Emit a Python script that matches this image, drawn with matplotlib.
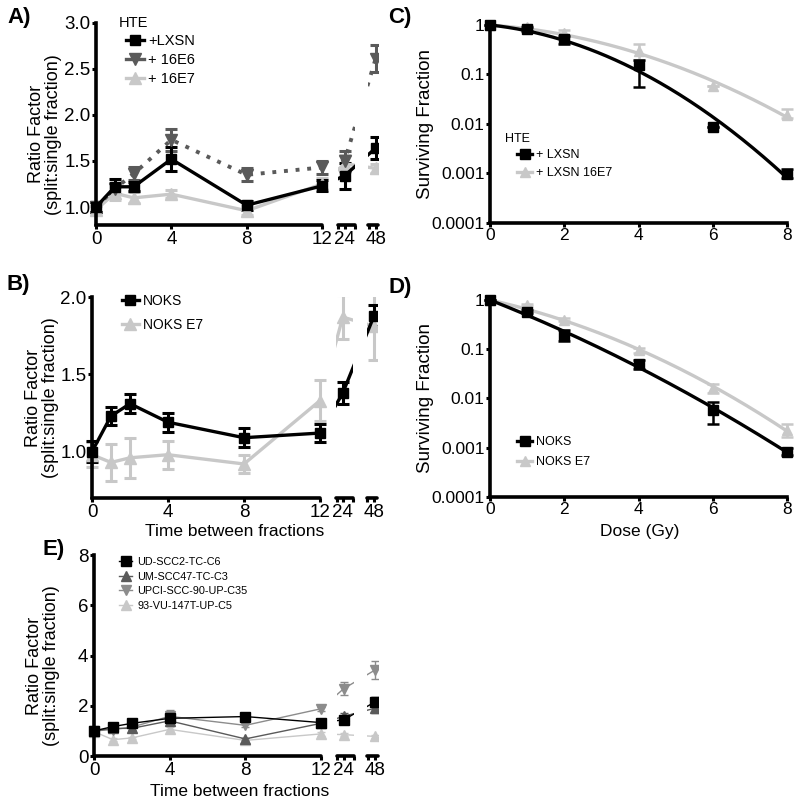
import numpy as np
import matplotlib.pyplot as plt
from matplotlib.lines import Line2D
from matplotlib.ticker import NullLocator

plt.rcParams['font.family'] = ['Liberation Sans', 'DejaVu Sans']

# ---------------- data ----------------
times = [0, 1, 2, 4, 8, 12, 24, 48]

# A) HTE ratio factor
a_lxsn = [1.00, 1.22, 1.22, 1.52, 1.02, 1.23, 1.34, 1.64]
a_lxsn_err = [0.05, 0.08, 0.05, 0.13, 0.05, 0.06, 0.14, 0.12]
a_16e6 = [1.00, 1.20, 1.36, 1.73, 1.35, 1.43, 1.50, 2.61]
a_16e6_err = [0.05, 0.06, 0.07, 0.12, 0.07, 0.07, 0.11, 0.15]
a_16e7 = [0.97, 1.15, 1.10, 1.14, 0.96, 1.25, 1.47, 1.42]
a_16e7_err = [0.04, 0.07, 0.06, 0.04, 0.05, 0.07, 0.09, 0.05]

# B) NOKS ratio factor
b_noks = [1.00, 1.23, 1.31, 1.19, 1.09, 1.12, 1.38, 1.88]
b_noks_err = [0.07, 0.06, 0.06, 0.06, 0.06, 0.06, 0.07, 0.07]
b_noks_e7 = [0.98, 0.93, 0.96, 0.98, 0.92, 1.33, 1.87, 1.81]
b_noks_e7_err = [0.08, 0.12, 0.13, 0.09, 0.06, 0.13, 0.14, 0.22]

# E) HNSCC lines ratio factor
e_names = ['UD-SCC2-TC-C6', 'UM-SCC47-TC-C3', 'UPCI-SCC-90-UP-C35', '93-VU-147T-UP-C5']
e_scc2 = [1.00, 1.17, 1.30, 1.50, 1.57, 1.33, 1.44, 2.15]
e_scc2_err = [0.05, 0.05, 0.06, 0.10, 0.05, 0.08, 0.10, 0.20]
e_scc47 = [1.00, 1.10, 1.10, 1.40, 0.68, 1.30, 1.58, 1.90]
e_scc47_err = [0.05, 0.05, 0.05, 0.10, 0.05, 0.08, 0.15, 0.20]
e_upci = [1.00, 1.05, 1.15, 1.58, 1.22, 1.88, 2.68, 3.42]
e_upci_err = [0.05, 0.05, 0.05, 0.25, 0.05, 0.08, 0.27, 0.35]
e_vu = [0.97, 0.65, 0.72, 1.06, 0.62, 0.88, 0.85, 0.78]
e_vu_err = [0.05, 0.05, 0.05, 0.10, 0.05, 0.08, 0.06, 0.05]

# C) / D) clonogenic survival
dose = [0, 1, 2, 4, 6, 8]
c_lxsn = [1.0, 0.82, 0.51, 0.155, 0.0086, 0.00098]
c_lxsn_lo = [1.0, 0.75, 0.42, 0.055, 0.0086, 0.0008]
c_lxsn_hi = [1.0, 0.90, 0.60, 0.20, 0.0086, 0.0012]
c_e7 = [1.0, 0.90, 0.68, 0.30, 0.057, 0.0152]
c_e7_lo = [1.0, 0.85, 0.55, 0.20, 0.057, 0.013]
c_e7_hi = [1.0, 0.95, 0.80, 0.42, 0.057, 0.020]

d_noks = [1.0, 0.58, 0.195, 0.049, 0.0058, 0.00083]
d_noks_lo = [1.0, 0.55, 0.15, 0.040, 0.0030, 0.0007]
d_noks_hi = [1.0, 0.62, 0.25, 0.060, 0.0085, 0.0010]
d_e7 = [1.0, 0.79, 0.40, 0.095, 0.016, 0.0023]
d_e7_lo = [1.0, 0.75, 0.37, 0.085, 0.013, 0.0016]
d_e7_hi = [1.0, 0.84, 0.43, 0.105, 0.020, 0.0030]

BLACK = 'black'
DARK = '#5a5a5a'
MID = '#8c8c8c'
LIGHT = '#c8c8c8'

W, H = 800, 805
fig = plt.figure(figsize=(W / 100, H / 100), dpi=100)


def box(l, r, t, b):
    return [l / W, 1 - b / H, (r - l) / W, (b - t) / H]


def bx(t):
    # positions of the 24 h and 48 h points on the broken time axis
    return [13.2 if v == 24 else 14.85 if v == 48 else v for v in t]


def broken_axes(l, r, t, b, ylim, yticks, ylabels):
    u = (r - l) / 12.0
    ax = fig.add_axes(box(l, r, t, b))
    s2 = fig.add_axes(box(l + 12.85 * u, l + 13.75 * u, t, b))
    s3 = fig.add_axes(box(l + 14.45 * u, l + 15.0 * u, t, b))
    ax.set_xlim(0, 12)
    s2.set_xlim(12.85, 13.75)
    s3.set_xlim(14.45, 15.0)
    for a in (ax, s2, s3):
        a.set_ylim(*ylim)
        a.patch.set_visible(False)
        a.spines['top'].set_visible(False)
        a.spines['right'].set_visible(False)
        a.spines['bottom'].set_linewidth(2.6)
        a.spines['left'].set_linewidth(2.6)
        a.spines['bottom'].set_capstyle('round')
        a.tick_params(width=2.2, length=3, labelsize=13.5, pad=1)
    for a in (s2, s3):
        a.spines['left'].set_visible(False)
        a.set_yticks([])
        a.tick_params(axis='x', which='minor', width=2.2, length=3)
    ax.set_xticks([0, 4, 8, 12])
    s2.set_xticks([13.2])
    s2.set_xticklabels(['24'])
    s2.set_xticks([12.87, 13.73], minor=True)
    s3.set_xticks([14.85])
    s3.set_xticklabels(['48'])
    s3.set_xticks([14.47], minor=True)
    ax.set_yticks(yticks)
    ax.set_yticklabels(ylabels)
    return ax, s2, s3


def series(axs, y, err, color, marker, ls='-', lw=2.4, ms=7, ew=2.2, cap=4.5):
    ax, s2, s3 = axs
    xs = bx(times)
    kw = dict(color=color, marker=marker, ms=ms, ls=ls, lw=lw,
              capsize=cap, capthick=ew, elinewidth=ew)
    eb = ax.errorbar(xs[:6], y[:6], yerr=err[:6], **kw)
    for art in eb.get_children():
        art.set_clip_on(False)
    for a in (s2, s3):
        a.errorbar(xs, y, yerr=err, **kw)


def handle(color, marker, lw=2.4, ms=7):
    return Line2D([0], [0], color=color, marker=marker, lw=lw, ms=ms)


RF_LABEL = 'Ratio Factor\n(split:single fraction)'

# ---------------- A ----------------
axA = broken_axes(96, 322, 22.7, 225.5, (0.8, 3.0),
                  [1.0, 1.5, 2.0, 2.5, 3.0], ['1.0', '1.5', '2.0', '2.5', '3.0'])
series(axA, a_16e7, a_16e7_err, LIGHT, '^', ms=8)
series(axA, a_16e6, a_16e6_err, DARK, 'v', ls=(0, (1.0, 2.0)), lw=2.8, ms=8)
series(axA, a_lxsn, a_lxsn_err, BLACK, 's')
axA[0].set_ylabel(RF_LABEL, fontsize=13, linespacing=1.0)
axA[0].yaxis.set_label_coords(-0.15, 0.45)
axA[0].text(119 / W, 1 - 23 / H, 'HTE', transform=fig.transFigure,
            fontsize=10.5, va='center', ha='left')
axA[0].legend([handle(BLACK, 's'), handle(DARK, 'v', ms=8), handle(LIGHT, '^', ms=8)],
              ['+LXSN', '+ 16E6', '+ 16E7'], loc='upper left',
              bbox_to_anchor=(126 / W, 1 - 34 / H), bbox_transform=fig.transFigure,
              frameon=False, fontsize=10.5, handlelength=1.2, handletextpad=0.3,
              labelspacing=0.33, borderpad=0, borderaxespad=0)

# ---------------- B ----------------
axB = broken_axes(92, 320, 297, 498, (0.7, 2.0),
                  [1.0, 1.5, 2.0], ['1.0', '1.5', '2.0'])
series(axB, b_noks_e7, b_noks_e7_err, LIGHT, '^', ms=8)
series(axB, b_noks, b_noks_err, BLACK, 's')
axB[0].set_ylabel(RF_LABEL, fontsize=13, linespacing=1.0)
axB[0].yaxis.set_label_coords(-0.145, 0.5)
axB[0].set_xlabel('Time between fractions', fontsize=12.5)
axB[0].xaxis.set_label_coords(0.627, -0.13)
axB[0].legend([handle(BLACK, 's'), handle(LIGHT, '^', ms=8)], ['NOKS', 'NOKS E7'],
              loc='upper left', bbox_to_anchor=(122 / W, 1 - 294 / H),
              bbox_transform=fig.transFigure, frameon=False, fontsize=10,
              handlelength=1.2, handletextpad=0.3, labelspacing=0.7,
              borderpad=0, borderaxespad=0)

# ---------------- E ----------------
axE = broken_axes(94, 321, 555, 756, (0, 8), [0, 2, 4, 6, 8], ['0', '2', '4', '6', '8'])
series(axE, e_vu, e_vu_err, LIGHT, '^', lw=1.0, ms=7, ew=1.0, cap=3)
series(axE, e_upci, e_upci_err, MID, 'v', lw=1.0, ms=7, ew=1.0, cap=3)
series(axE, e_scc47, e_scc47_err, DARK, '^', lw=1.0, ms=7, ew=1.0, cap=3)
series(axE, e_scc2, e_scc2_err, BLACK, 's', lw=1.0, ms=6.5, ew=1.0, cap=3)
axE[0].set_ylabel(RF_LABEL, fontsize=13, linespacing=1.0)
axE[0].yaxis.set_label_coords(-0.15, 0.45)
axE[0].set_xlabel('Time between fractions', fontsize=12.5)
axE[0].xaxis.set_label_coords(0.64, -0.14)
axE[0].legend([handle(BLACK, 's', 1.0, 6.5), handle(DARK, '^', 1.0), handle(MID, 'v', 1.0),
               handle(LIGHT, '^', 1.0)], e_names,
              loc='upper left', bbox_to_anchor=(119 / W, 1 - 557 / H),
              bbox_transform=fig.transFigure, frameon=False, fontsize=7.8,
              handlelength=1.2, handletextpad=0.5, labelspacing=0.42,
              borderpad=0, borderaxespad=0)


# ---------------- C / D ----------------
def lq_fit(d, s):
    d = np.asarray(d, float)
    A = np.column_stack([d, d ** 2])
    coef, *_ = np.linalg.lstsq(A, -np.log(np.asarray(s, float)), rcond=None)
    return coef


def survival_axes(l, r, t, b):
    ax = fig.add_axes(box(l, r, t, b))
    ax.set_yscale('log')
    ax.set_xlim(0, 8)
    ax.set_ylim(1e-4, 1)
    ax.set_xticks([0, 2, 4, 6, 8])
    ax.set_yticks([1e-4, 1e-3, 1e-2, 1e-1, 1])
    ax.set_yticklabels(['0.0001', '0.001', '0.01', '0.1', '1'])
    ax.yaxis.set_minor_locator(NullLocator())
    ax.patch.set_visible(False)
    ax.spines['top'].set_visible(False)
    ax.spines['right'].set_visible(False)
    ax.spines['bottom'].set_linewidth(2.6)
    ax.spines['left'].set_linewidth(2.6)
    ax.tick_params(width=2.2, length=3, labelsize=12.5, pad=1)
    ax.set_ylabel('Surviving Fraction', fontsize=13.5)
    ax.yaxis.set_label_coords(-0.19, 0.5)
    return ax


def survival(ax, s, lo, hi, color, marker, ms=7):
    s = np.asarray(s)
    yerr = [s - np.asarray(lo), np.asarray(hi) - s]
    eb = ax.errorbar(dose, s, yerr=yerr, color=color, marker=marker, ms=ms, ls='none',
                     capsize=4.5, capthick=1.8, elinewidth=1.8)
    for art in eb.get_children():
        art.set_clip_on(False)
    a, b = lq_fit(dose, s)
    dd = np.linspace(0, 8, 200)
    ax.plot(dd, np.exp(-a * dd - b * dd ** 2), color=color, lw=2.4, clip_on=False)


axC = survival_axes(490, 787, 25, 222.7)
survival(axC, c_e7, c_e7_lo, c_e7_hi, LIGHT, '^', ms=7.5)
survival(axC, c_lxsn, c_lxsn_lo, c_lxsn_hi, BLACK, 's')
axC.text(505 / W, 1 - 139 / H, 'HTE', transform=fig.transFigure,
         fontsize=9, va='center', ha='left')
axC.legend([handle(BLACK, 's'), handle(LIGHT, '^', ms=7.5)], ['+ LXSN', '+ LXSN 16E7'],
           loc='upper left', bbox_to_anchor=(517 / W, 1 - 149 / H),
           bbox_transform=fig.transFigure, frameon=False, fontsize=9,
           handlelength=1.2, handletextpad=0.3, labelspacing=0.5,
           borderpad=0, borderaxespad=0)

axD = survival_axes(490, 787, 300, 496.7)
survival(axD, d_e7, d_e7_lo, d_e7_hi, LIGHT, '^', ms=7.5)
survival(axD, d_noks, d_noks_lo, d_noks_hi, BLACK, 's')
axD.set_xlabel('Dose (Gy)', fontsize=12.5)
axD.xaxis.set_label_coords(0.505, -0.14)
axD.legend([handle(BLACK, 's'), handle(LIGHT, '^', ms=7.5)], ['NOKS', 'NOKS E7'],
           loc='upper left', bbox_to_anchor=(517 / W, 1 - 436 / H),
           bbox_transform=fig.transFigure, frameon=False, fontsize=9,
           handlelength=1.2, handletextpad=0.3, labelspacing=0.66,
           borderpad=0, borderaxespad=0)

# panel letters
for lab, x, y in [('A)', 7, 7), ('B)', 7, 274), ('C)', 388, 7), ('D)', 388, 277), ('E)', 42, 539)]:
    fig.text(x / W, 1 - y / H, lab, fontsize=16, fontweight='bold', va='top', ha='left')

fig.savefig('out.png', dpi=100)
